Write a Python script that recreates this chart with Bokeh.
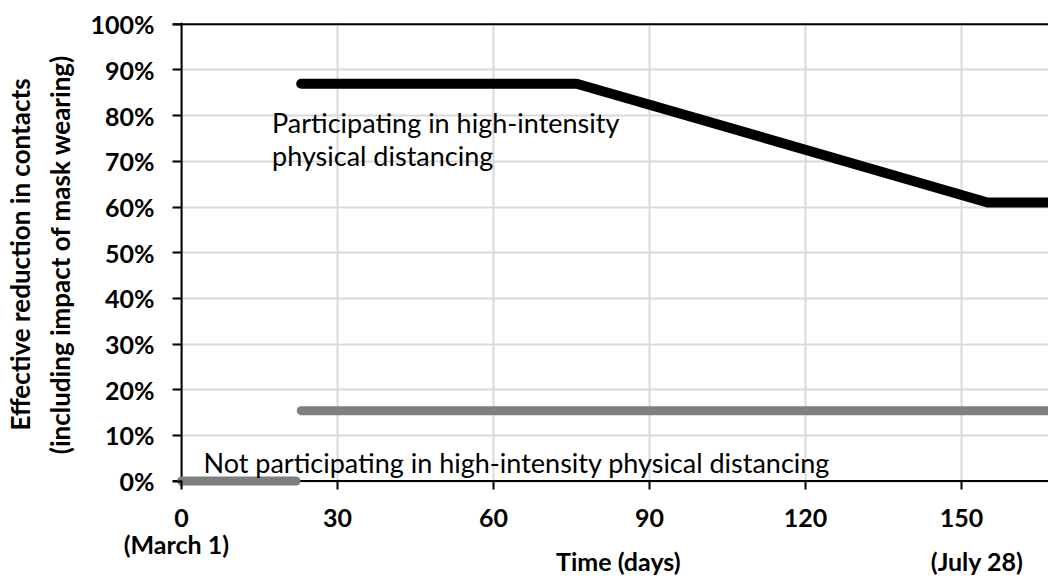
from bokeh.plotting import figure
from bokeh.models import Span, Label, FixedTicker, Range1d, NumeralTickFormatter, LinearAxis
from bokeh.embed import file_html
from bokeh.resources import INLINE

# ---- data ----
part_days = [23, 76, 155, 170]
part_vals = [0.87, 0.87, 0.61, 0.61]
nonpart_early_days = [0, 22]
nonpart_early_vals = [0.0, 0.0]
nonpart_late_days = [23, 170]
nonpart_late_vals = [0.154, 0.154]
x_ticks = [0, 30, 60, 90, 120, 150]
x_date_notes = ["(March 1)", "(July 28)"]
y_ticks = [0, 0.1, 0.2, 0.3, 0.4, 0.5, 0.6, 0.7, 0.8, 0.9, 1.0]
series_names = ["Participating in high-intensity", "physical distancing",
                "Not participating in high-intensity physical distancing"]
x_title = "Time (days)"
y_title = "Effective reduction in contacts\n(including impact of mask wearing)"

FONT = "Lato"
TICK_FS = "25px"

p = figure(width=1048, height=578, output_backend="svg", toolbar_location=None,
           x_range=Range1d(-1.75, 166.73), y_range=Range1d(-0.012, 1.004),
           min_border_left=172, min_border_right=0, min_border_top=22,
           min_border_bottom=91)
p.outline_line_color = None
p.background_fill_color = "white"
p.border_fill_color = "white"

# grid
p.xgrid.ticker = FixedTicker(ticks=x_ticks)
p.ygrid.ticker = FixedTicker(ticks=y_ticks)
p.grid.grid_line_color = "#d9d9d9"
p.grid.grid_line_width = 2

# main axes
p.xaxis.ticker = FixedTicker(ticks=x_ticks)
p.yaxis.ticker = FixedTicker(ticks=y_ticks)
p.yaxis.formatter = NumeralTickFormatter(format="0%")
for ax in (p.xaxis, p.yaxis):
    ax.axis_line_color = None
    ax.major_tick_line_color = "black"
    ax.major_tick_line_width = 2
    ax.minor_tick_line_color = None
    ax.major_label_text_font = FONT
    ax.major_label_text_font_style = "bold"
    ax.major_label_text_font_size = TICK_FS
    ax.major_label_text_color = "black"
p.xaxis.major_tick_in = 6
p.xaxis.major_tick_out = 3
p.xaxis.major_label_standoff = 19
p.yaxis.major_tick_in = 9
p.yaxis.major_tick_out = 0
p.yaxis.major_label_standoff = 18
p.yaxis.axis_label = y_title
p.yaxis.axis_label_text_font = FONT
p.yaxis.axis_label_text_font_style = "bold"
p.yaxis.axis_label_text_font_size = "26px"
p.yaxis.axis_label_text_color = "black"
p.yaxis.axis_label_standoff = 12
p.yaxis.axis_label_text_line_height = 1.25


def note_axis(ticks, labels, standoff):
    ax = LinearAxis(ticker=FixedTicker(ticks=ticks),
                    major_label_overrides=dict(zip(ticks, labels)))
    ax.axis_line_color = None
    ax.major_tick_line_color = None
    ax.minor_tick_line_color = None
    ax.major_tick_in = 0
    ax.major_tick_out = 0
    ax.major_label_standoff = standoff
    ax.major_label_text_font = FONT
    ax.major_label_text_font_style = "bold"
    ax.major_label_text_font_size = TICK_FS
    ax.major_label_text_color = "black"
    return ax


# second text rows under the axis (dates and axis title)
p.add_layout(note_axis([-1], [x_date_notes[0]], -1), "below")
p.add_layout(note_axis([84, 153], [x_title, x_date_notes[1]], -16), "below")

# axis lines at the data zero, under the series
p.add_layout(Span(location=0, dimension="width", line_color="black", line_width=2, level="underlay"))
p.add_layout(Span(location=0, dimension="height", line_color="black", line_width=2, level="underlay"))
p.add_layout(Span(location=1.0, dimension="width", line_color="black", line_width=2, level="underlay"))

# series
p.line(nonpart_early_days, nonpart_early_vals, line_width=9, line_color="#7f7f7f",
       line_cap="round", line_join="round")
p.line(nonpart_late_days, nonpart_late_vals, line_width=9, line_color="#7f7f7f",
       line_cap="round", line_join="round")
p.line(part_days, part_vals, line_width=10, line_color="black",
       line_cap="round", line_join="round")

# in-plot labels
lab_kw = dict(text_font=FONT, text_font_size="27px", text_color="black",
              text_baseline="alphabetic", text_align="left")
p.add_layout(Label(x=17.4, y=0.786, text=series_names[0], **lab_kw))
p.add_layout(Label(x=17.4, y=0.7126, text=series_names[1], **lab_kw))
p.add_layout(Label(x=4.2, y=0.0398, text=series_names[2], **lab_kw))

open("out.html", "w").write(file_html(p, INLINE))
